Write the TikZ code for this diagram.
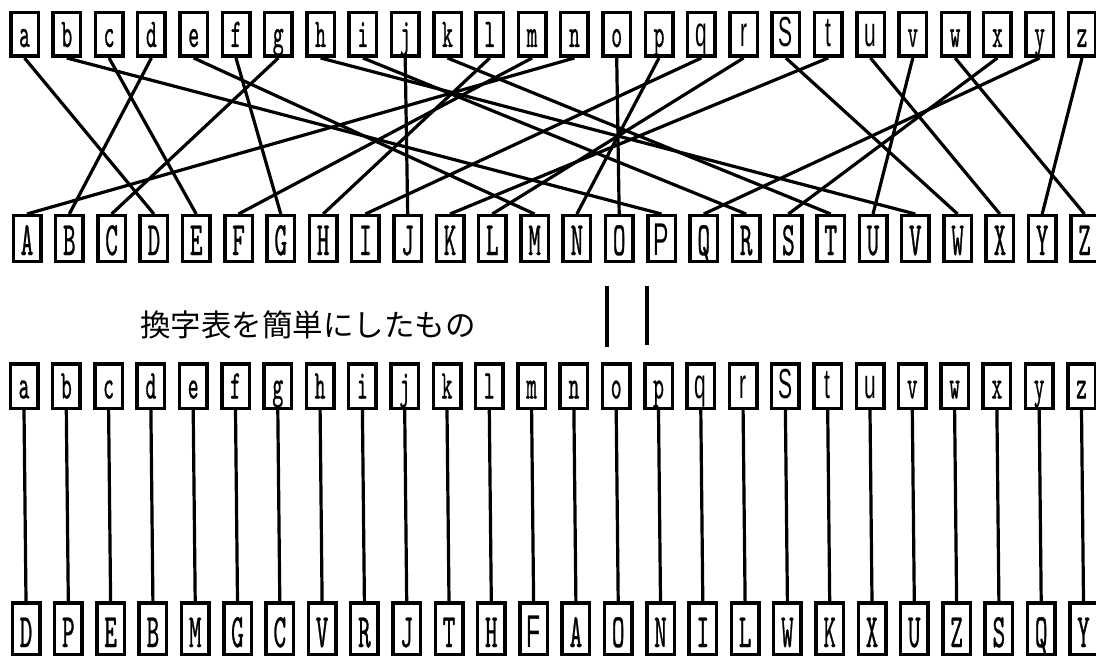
\documentclass[tikz,border=0pt]{standalone}
\usepackage{fontspec}
\newfontfamily\monoc[FakeStretch=0.5,FakeBold=0.6]{lmmono10-regular.otf}
\newfontfamily\sansc[FakeStretch=0.5]{Liberation Sans}
\newfontfamily\cjk{Noto Sans CJK JP}
\newcommand\lowf{\monoc\fontsize{41pt}{41pt}\selectfont}
\newcommand\upf{\monoc\fontsize{48pt}{48pt}\selectfont}
\newcommand\altl[1]{{\sansc\fontsize{42pt}{42pt}\selectfont #1}}
\newcommand\altu[1]{{\sansc\fontsize{46pt}{46pt}\selectfont #1}}
\begin{document}
\begin{tikzpicture}[x=1pt,y=-1pt,
  bx/.style={draw, line width=3.5pt, minimum width=27.5pt, inner sep=0pt},
  rowa/.style={bx, minimum height=43.5pt, text height=25pt, text depth=0pt, font=\lowf},
  rowb/.style={bx, minimum height=45.5pt, text height=33pt, text depth=0pt, font=\upf},
  rowc/.style={bx, minimum height=44.5pt, text height=25pt, text depth=0pt, font=\lowf},
  rowd/.style={bx, minimum height=51.5pt, text height=37pt, text depth=0pt, font=\upf},
  link/.style={line width=3.2pt},
  bar/.style={line width=3.5pt}]
\useasboundingbox (0,0) rectangle (1096,658);
% row 1: plaintext alphabet
\foreach \c [count=\i] in {a,b,c,d,e,f,g,h,i,j,k,l,m,n,o,p,\altl{q},\altl{r},\altl{S},\altl{t},\altl{u},v,w,x,y,z}
  \node[rowa] (t\i) at ({24.5+42.3*(\i-1)},34.5) {\c};
% row 2: cipher alphabet
\foreach \c [count=\i] in {A,B,C,D,E,F,G,H,I,J,K,L,M,N,O,\altu{P},Q,R,S,T,U,V,W,X,Y,Z}
  \node[rowb] (u\i) at ({27+42.3*(\i-1)},238.5) {\c};
% connectors row 1 -> row 2
\foreach \s/\t in {1/4,2/16,3/5,4/2,5/13,6/7,7/3,8/22,9/18,10/10,11/20,12/8,13/6,14/1,15/15,16/14,17/9,18/12,19/23,20/11,21/24,22/21,23/26,24/19,25/17,26/25}
  \draw[link] (t\s.south) -- (u\t.north);
% caption
\node[font=\cjk\fontsize{30.5pt}{30.5pt}\selectfont, inner sep=0pt] (cap) at (308,325) {換字表を簡単にしたもの};
% two vertical bars
\coordinate (b1a) at (607,286); \coordinate (b1b) at (607,347);
\coordinate (b2a) at (647,286); \coordinate (b2b) at (647,345);
\draw[bar] (b1a) -- (b1b);
\draw[bar] (b2a) -- (b2b);
% row 3: plaintext alphabet
\foreach \c [count=\i] in {a,b,c,d,e,f,g,h,i,j,k,l,m,n,o,p,\altl{q},\altl{r},\altl{S},\altl{t},\altl{u},v,w,x,y,z}
  \node[rowc] (m\i) at ({24+42.3*(\i-1)},386) {\c};
% row 4: substitutes
\foreach \c [count=\i] in {D,P,E,B,M,G,C,V,R,J,T,H,\altu{F},A,O,N,I,L,W,K,X,U,Z,S,Q,Y}
  \node[rowd] (d\i) at ({26+42.3*(\i-1)},628.5) {\c};
% vertical connectors
\foreach \i in {1,...,26}
  \draw[link] (m\i.south) -- (d\i.north);
\end{tikzpicture}
\end{document}
